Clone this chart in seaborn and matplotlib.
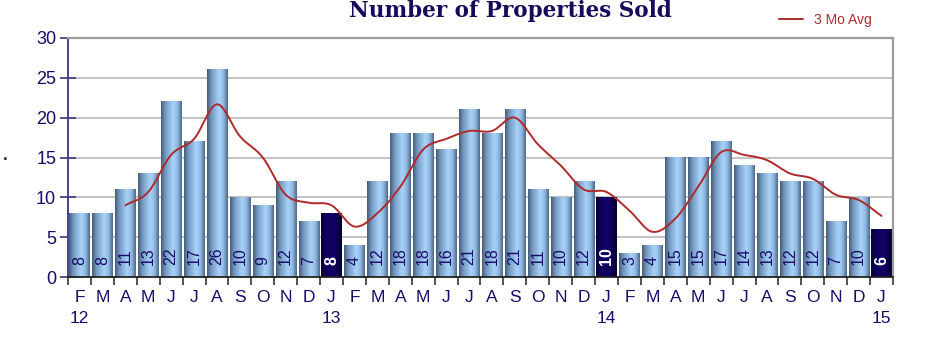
import numpy as np
import pandas as pd
import matplotlib
matplotlib.use("Agg")
import matplotlib.pyplot as plt
from matplotlib.colors import LinearSegmentedColormap
import seaborn as sns

# Monthly sales, Feb 2012 .. Jan 2015
months = ["F", "M", "A", "M", "J", "J", "A", "S", "O", "N", "D", "J",
          "F", "M", "A", "M", "J", "J", "A", "S", "O", "N", "D", "J",
          "F", "M", "A", "M", "J", "J", "A", "S", "O", "N", "D", "J"]
sold = [8, 8, 11, 13, 22, 17, 26, 10, 9, 12, 7, 8,
        4, 12, 18, 18, 16, 21, 18, 21, 11, 10, 12, 10,
        3, 4, 15, 15, 17, 14, 13, 12, 12, 7, 10, 6]
# trailing three-month average (starts with the third month)
avg3 = [None, None, 9.0, 10.67, 15.33, 17.33, 21.67, 17.67, 15.0, 10.33, 9.33, 9.0,
        6.33, 8.0, 11.33, 16.0, 17.33, 18.33, 18.33, 20.0, 16.67, 14.0, 11.0, 10.67,
        8.33, 5.67, 7.33, 11.33, 15.67, 15.33, 14.67, 13.0, 12.33, 10.33, 9.67, 7.67]
years = {0: "12", 11: "13", 23: "14", 35: "15"}
january = [11, 23, 35]

NAVY = "#1a0a6a"
RED = "#b02a2a"

df = pd.DataFrame({"pos": list(range(len(sold))), "sold": sold})

sns.set_theme(style="white")
plt.rcParams["font.family"] = ["Liberation Sans", "DejaVu Sans"]

fig = plt.figure(figsize=(9.4, 3.44), dpi=100)
ax = fig.add_axes([68 / 940, 1 - 277 / 344, (893 - 68) / 940, (277 - 38) / 344])

sns.barplot(data=df, x="pos", y="sold", width=0.88, color="#9ccaf5",
            ax=ax, zorder=2, errorbar=None, linewidth=0)

# cylinder-style shading on each bar
blue_cm = LinearSegmentedColormap.from_list(
    "bluebar", [(0.0, "#455c78"), (0.2, "#7398be"), (0.58, "#a8d3fb"),
                (0.8, "#8fb8e0"), (1.0, "#4d6886")])
dark_cm = LinearSegmentedColormap.from_list(
    "darkbar", [(0.0, "#05002a"), (0.2, "#0e0058"), (0.6, "#140068"),
                (1.0, "#05002e")])
grad = np.linspace(0, 1, 64)[np.newaxis, :]
for i, p in enumerate(ax.patches):
    x0, w, h = p.get_x(), p.get_width(), p.get_height()
    cm = dark_cm if i in january else blue_cm
    ax.imshow(grad, extent=[x0, x0 + w, 0, h], aspect="auto", cmap=cm,
              zorder=2.1, interpolation="bicubic")
    p.set_alpha(0)

# value labels inside bars
for i, v in enumerate(sold):
    jan = i in january
    ax.text(i, 1.5, str(v), rotation=90, ha="center", va="bottom",
            fontsize=11.5, color="white" if jan else NAVY,
            fontweight="bold" if jan else "normal", zorder=4)


def catmull_rom(xs, ys, n=24):
    xs = np.asarray(xs, float)
    ys = np.asarray(ys, float)
    px = np.concatenate([[2 * xs[0] - xs[1]], xs, [2 * xs[-1] - xs[-2]]])
    py = np.concatenate([[2 * ys[0] - ys[1]], ys, [2 * ys[-1] - ys[-2]]])
    out_x, out_y = [], []
    t = np.linspace(0, 1, n, endpoint=False)
    for k in range(1, len(px) - 2):
        for arr, out in ((px, out_x), (py, out_y)):
            p0, p1, p2, p3 = arr[k - 1], arr[k], arr[k + 1], arr[k + 2]
            out.extend(0.5 * (2 * p1 + (-p0 + p2) * t
                              + (2 * p0 - 5 * p1 + 4 * p2 - p3) * t ** 2
                              + (-p0 + 3 * p1 - 3 * p2 + p3) * t ** 3))
    out_x.append(xs[-1])
    out_y.append(ys[-1])
    return np.array(out_x), np.array(out_y)


avg_x = [i for i, a in enumerate(avg3) if a is not None]
avg_y = [a for a in avg3 if a is not None]
sx, sy = catmull_rom(avg_x, avg_y)
line, = ax.plot(sx, sy, color=RED, lw=1.4, zorder=3, label="3 Mo Avg")

ax.set_xlim(-0.5, len(sold) - 0.5)
ax.set_ylim(0, 30)
ax.set_yticks(range(0, 31, 5))
ax.set_yticklabels([str(v) for v in range(0, 31, 5)], fontsize=13, color=NAVY)
ax.yaxis.grid(True, color="#c4c4c4", lw=1.5, zorder=0)
ax.set_axisbelow(True)

ax.set_xticks(range(len(sold)))
ax.set_xticklabels(months, fontsize=12.5, color=NAVY)
ax.set_xticks(np.arange(-0.5, len(sold), 1.0), minor=True)
ax.tick_params(axis="x", which="major", length=0, pad=9)
ax.tick_params(axis="x", which="minor", length=6, width=1.2, color="#333333",
               direction="out", bottom=True)
ax.tick_params(axis="y", which="major", length=11, width=1.3, color="#4a3f86",
               direction="inout", left=True, pad=3)
ax.set_xlabel("")
ax.set_ylabel("")

for i, y in years.items():
    ax.text(i, -0.172, y, transform=ax.get_xaxis_transform(), ha="center",
            va="center", fontsize=12.5, color=NAVY)

for side in ("top", "right"):
    ax.spines[side].set_visible(True)
    ax.spines[side].set_color("#9c9c9c")
    ax.spines[side].set_linewidth(1.6)
ax.spines["left"].set_color("#4a3f86")
ax.spines["left"].set_linewidth(1.4)
ax.spines["bottom"].set_color("#222222")
ax.spines["bottom"].set_linewidth(1.3)
ax.spines["bottom"].set_zorder(5)

fig.text(510 / 940, 1 - 17 / 344, "Number of Properties Sold",
         ha="center", va="baseline", fontsize=15.5, fontweight="bold",
         color="#150a5c", family=["DejaVu Serif", "Liberation Serif"])

leg = ax.legend(handles=[line], loc="center left",
                bbox_to_anchor=(772 / 940, 1 - 20 / 344),
                bbox_transform=fig.transFigure, frameon=False,
                fontsize=10, labelcolor=RED, handlelength=1.7,
                handletextpad=0.8, borderpad=0)

fig.text(2 / 940, 1 - 160 / 344, ".", fontsize=18, color="#222222",
         ha="left", va="baseline")

fig.savefig("out.png", dpi=100)
